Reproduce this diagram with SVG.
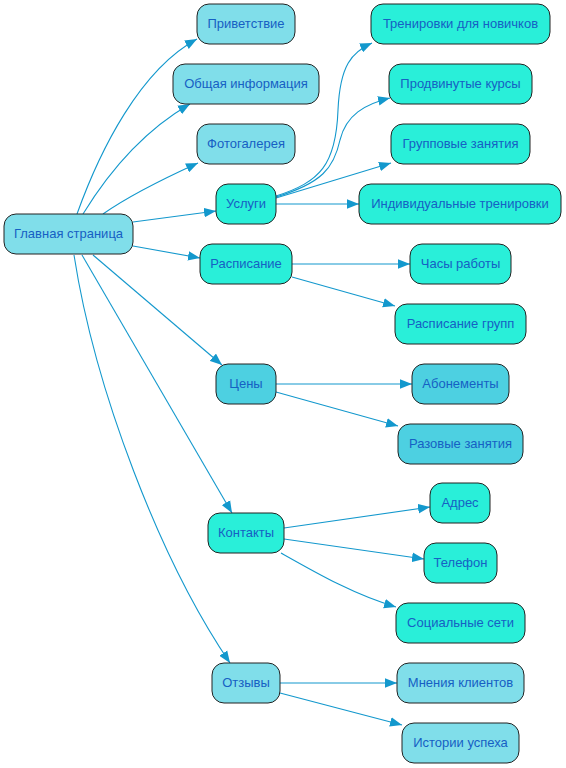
<svg xmlns="http://www.w3.org/2000/svg" width="566" height="768" viewBox="0 0 566 768">
<style>
.n rect{stroke:#222;stroke-width:1}
.a rect{fill:#80deea}
.b rect{fill:#29efd9}
.c rect{fill:#4dd0e1}
.n text{font-family:"Liberation Sans",Arial,sans-serif;font-size:13px;fill:#1660c4;text-anchor:middle;dominant-baseline:central}
#edges path{fill:none;stroke:#1398cd;stroke-width:1.1;marker-end:url(#ah)}
</style>
<defs>
<marker id="ah" markerUnits="userSpaceOnUse" markerWidth="12" markerHeight="10" refX="10" refY="4" orient="auto" viewBox="0 0 10 8">
<path d="M0,0 L10,4 L0,8 Z" fill="#1398cd"/>
</marker>
</defs>
<rect width="566" height="768" fill="#fff"/>
<g id="edges">
<path d="M77,214 C100,150 140,70 197,39"/>
<path d="M83,214 C110,170 145,130 190,104"/>
<path d="M103,214 C130,195 165,178 198,163"/>
<path d="M133,222 L216,211"/>
<path d="M133,246 L200,258"/>
<path d="M93,255 L222,365"/>
<path d="M82,255 L232,513"/>
<path d="M74,255 C95,390 160,560 230,663"/>
<path d="M276,196 C320,182 336,165 338,110 C340,65 352,52 372,43"/>
<path d="M276,197 C322,183 334,168 340,140 C346,115 365,104 390,98"/>
<path d="M276,198 L391,163"/>
<path d="M276,204 L359,204"/>
<path d="M292,264 L410,264"/>
<path d="M292,277 L395,306"/>
<path d="M276,384 L412,384"/>
<path d="M276,392 L398,426"/>
<path d="M284,528 L430,507"/>
<path d="M284,539 L424,559"/>
<path d="M281,553 C320,575 355,595 396,607"/>
<path d="M280,683 L397,683"/>
<path d="M280,693 L402,725"/>
</g>
<g id="main" class="n a"><rect x="4" y="214" width="129" height="40" rx="12"/><text x="68.5" y="233">Главная страница</text></g>
<g id="privet" class="n a"><rect x="197" y="4" width="98" height="40" rx="12"/><text x="246" y="23">Приветствие</text></g>
<g id="info" class="n a"><rect x="173" y="64" width="146" height="40" rx="12"/><text x="246" y="83">Общая информация</text></g>
<g id="foto" class="n a"><rect x="197" y="124" width="98" height="40" rx="12"/><text x="246" y="143">Фотогалерея</text></g>
<g id="uslugi" class="n b"><rect x="216" y="184" width="60" height="40" rx="12"/><text x="246" y="203">Услуги</text></g>
<g id="raspisanie" class="n b"><rect x="200" y="244" width="92" height="40" rx="12"/><text x="246" y="263">Расписание</text></g>
<g id="ceny" class="n c"><rect x="216" y="364" width="60" height="40" rx="12"/><text x="246" y="383">Цены</text></g>
<g id="kontakty" class="n b"><rect x="208" y="513" width="76" height="40" rx="12"/><text x="246" y="532">Контакты</text></g>
<g id="otzyvy" class="n a"><rect x="212" y="663" width="68" height="40" rx="12"/><text x="246" y="682">Отзывы</text></g>
<g id="novichki" class="n b"><rect x="371" y="4" width="179" height="40" rx="12"/><text x="460.5" y="23">Тренировки для новичков</text></g>
<g id="prodv" class="n b"><rect x="389" y="64" width="143" height="40" rx="12"/><text x="460.5" y="83">Продвинутые курсы</text></g>
<g id="grupp" class="n b"><rect x="391" y="124" width="139" height="40" rx="12"/><text x="460.5" y="143">Групповые занятия</text></g>
<g id="individ" class="n b"><rect x="359" y="184" width="202" height="40" rx="12"/><text x="460" y="203">Индивидуальные тренировки</text></g>
<g id="chasy" class="n b"><rect x="410" y="244" width="101" height="40" rx="12"/><text x="460.5" y="263">Часы работы</text></g>
<g id="raspgr" class="n b"><rect x="395" y="304" width="131" height="40" rx="12"/><text x="460.5" y="323">Расписание групп</text></g>
<g id="abon" class="n c"><rect x="412" y="364" width="97" height="40" rx="12"/><text x="460.5" y="383">Абонементы</text></g>
<g id="razov" class="n c"><rect x="398" y="424" width="125" height="40" rx="12"/><text x="460.5" y="443">Разовые занятия</text></g>
<g id="adres" class="n b"><rect x="430" y="483" width="60" height="40" rx="12"/><text x="460" y="502">Адрес</text></g>
<g id="telefon" class="n b"><rect x="424" y="543" width="73" height="40" rx="12"/><text x="460.5" y="562">Телефон</text></g>
<g id="soc" class="n b"><rect x="396" y="603" width="129" height="40" rx="12"/><text x="460.5" y="622">Социальные сети</text></g>
<g id="mnenia" class="n a"><rect x="397" y="663" width="127" height="40" rx="12"/><text x="460.5" y="682">Мнения клиентов</text></g>
<g id="istorii" class="n a"><rect x="402" y="723" width="117" height="40" rx="12"/><text x="460.5" y="742">Истории успеха</text></g>
</svg>
